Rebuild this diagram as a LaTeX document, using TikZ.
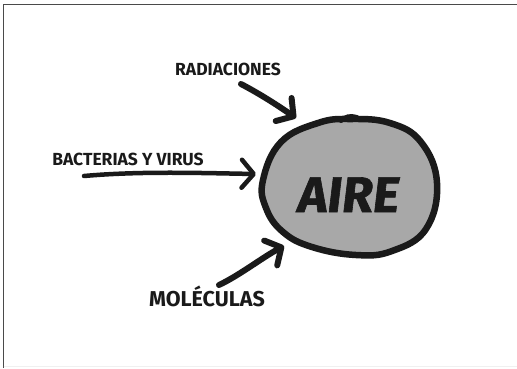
\documentclass[tikz,border=0pt]{standalone}
\usepackage{fontspec}
\setmainfont{Fira Sans}
\newfontfamily\airefont{Fira Sans}[FakeSlant=0.12, FakeBold=1.2]
\usetikzlibrary{arrows.meta}
\definecolor{ink}{HTML}{1A1A1A}
\definecolor{blobfill}{HTML}{A8A8A8}
\definecolor{framec}{HTML}{4A4A4A}
\tikzset{
  lbl/.style={anchor=base, inner sep=0pt, text=ink, font=\bfseries\fontsize{17.5}{18}\selectfont},
  bigword/.style={anchor=base, inner sep=0pt, text=ink, font=\airefont\bfseries\fontsize{50}{50}\selectfont},
  fatarrow/.style={draw=ink, line width=6pt, line cap=round, line join=round,
    -{Straight Barb[length=12pt,width=28pt,round]}},
  blob/.style={draw=ink, fill=blobfill, line width=6.5pt, line join=round},
  framel/.style={draw=framec, line width=1.6pt}
}
\begin{document}
\begin{tikzpicture}[x=1pt,y=-1pt]
\useasboundingbox (0,0) rectangle (517,368);
\fill[white] (0,0) rectangle (517,368);
% frame (top and left edges)
\coordinate (fTL) at (3.5,4.5);
\coordinate (fTR) at (517,4.5);
\coordinate (fBL) at (3.5,368);
\draw[framel] (fTR) -- (fTL) -- (fBL);
\draw[draw=black!6, line width=1pt] (fBL) ++(0,-1.5) -- ++(513,0);
% the blob
\draw[blob] plot[smooth cycle, tension=0.7] coordinates {
  (263,180) (281,142) (318,123) (350,119) (390,123) (421,142) (437,183)
  (426,229) (392,251) (356,255) (312,247) (283,232) (266,208)};
\draw[ink, line width=4pt, line cap=round] (341,121) .. controls (345,116) and (350,115) .. (357,117);
\node[bigword] (aire) at (347,212) {AIRE};
% labels
\node[lbl] (rad) at (228,75) {RADIACIONES};
\node[lbl] (bac) at (128,165) {BACTERIAS Y VIRUS};
\node[lbl, font=\bfseries\fontsize{21.5}{22}\selectfont] (mol) at (207,306) {MOLÉCULAS};
% arrow ends
\coordinate (radS) at (241,84);
\coordinate (radE) at (296,118);
\coordinate (bacS) at (84,176);
\coordinate (bacE) at (256,174);
\coordinate (molS) at (219,285);
\coordinate (molE) at (284,246);
\draw[fatarrow] (radS) .. controls (262,95) and (280,107) .. (radE);
\draw[fatarrow, line width=4.5pt] (bacS) .. controls (140,171) and (200,173) .. (bacE);
\draw[fatarrow] (molS) .. controls (240,275) and (263,257) .. (molE);
\end{tikzpicture}
\end{document}
